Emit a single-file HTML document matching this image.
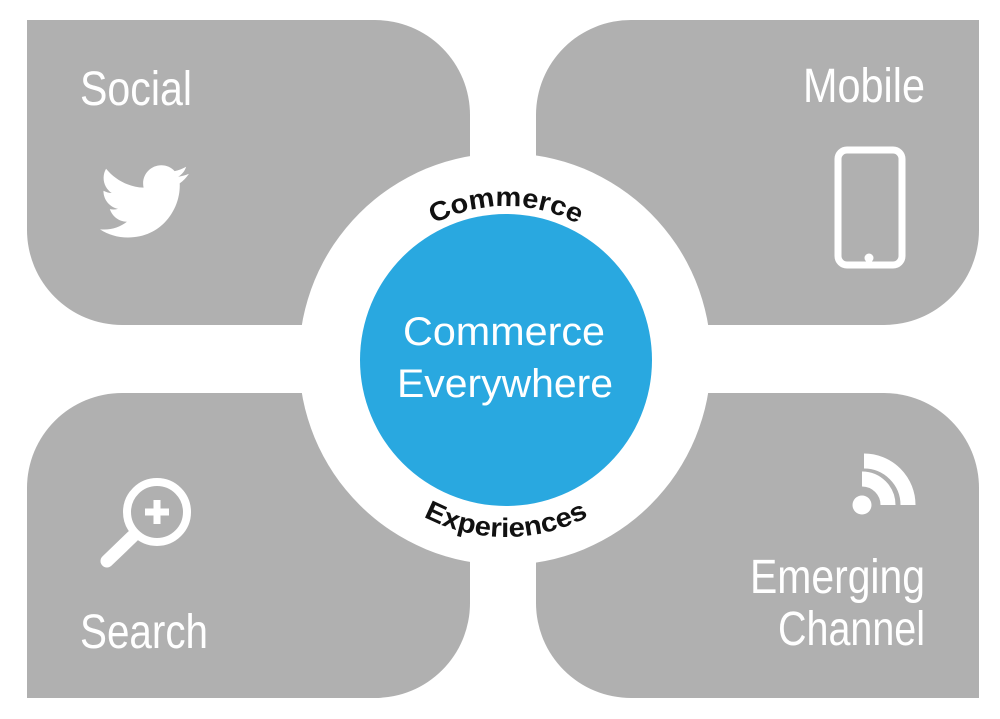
<!DOCTYPE html>
<html><head><meta charset="utf-8"><style>
html,body{margin:0;padding:0;background:#fff;}
svg{display:block;}
</style></head><body>
<svg width="1000" height="719" viewBox="0 0 1000 719" xmlns="http://www.w3.org/2000/svg">
<g fill="#b0b0b0">
<path d="M27,20 H375 A95,95 0 0 1 470,115 V325 H122 A95,95 0 0 1 27,230 Z"/>
<path d="M632,20 H979 V230 A95,95 0 0 1 884,325 H536 V115 A95,95 0 0 1 632,20 Z"/>
<path d="M122,393 H470 V603 A95,95 0 0 1 375,698 H27 V488 A95,95 0 0 1 122,393 Z"/>
<path d="M536,393 H884 A95,95 0 0 1 979,488 V698 H631 A95,95 0 0 1 536,603 Z"/>
</g>
<circle cx="505" cy="359" r="206" fill="#fff"/>
<circle cx="506" cy="360" r="146" fill="#29a8e0"/>
<defs>
<path id="topArc" d="M352,360 A154,154 0 0 1 660,360"/>
<path id="botArc" d="M329,360 A177,177 0 0 0 683,360"/>
</defs>
<g font-family="Liberation Sans, sans-serif" font-weight="bold" font-size="27" fill="#111">
<text><textPath href="#topArc" startOffset="50%" text-anchor="middle" textLength="150" lengthAdjust="spacingAndGlyphs">Commerce</textPath></text>
<text><textPath href="#botArc" startOffset="50%" text-anchor="middle" textLength="172" lengthAdjust="spacingAndGlyphs">Experiences</textPath></text>
</g>
<g font-family="Liberation Sans, sans-serif" fill="#fff">
<text x="403" y="345" font-size="40" textLength="202" lengthAdjust="spacingAndGlyphs">Commerce</text>
<text x="397" y="397" font-size="40" textLength="216" lengthAdjust="spacingAndGlyphs">Everywhere</text>
<text x="80" y="105" font-size="48" textLength="112" lengthAdjust="spacingAndGlyphs">Social</text>
<text x="803" y="102" font-size="48" textLength="122" lengthAdjust="spacingAndGlyphs">Mobile</text>
<text x="80" y="648" font-size="48" textLength="128" lengthAdjust="spacingAndGlyphs">Search</text>
<text x="750" y="593" font-size="48" textLength="175" lengthAdjust="spacingAndGlyphs">Emerging</text>
<text x="778" y="645" font-size="48" textLength="147" lengthAdjust="spacingAndGlyphs">Channel</text>
</g>
<!-- twitter bird -->
<path fill="#fff" transform="translate(100,157) scale(3.7,3.7)" d="M23.954 4.569c-.885.389-1.83.654-2.825.775 1.014-.611 1.794-1.574 2.163-2.723-.951.555-2.005.959-3.127 1.184-.896-.959-2.173-1.559-3.591-1.559-2.717 0-4.920 2.203-4.920 4.917 0 .39.045.765.127 1.124C7.691 8.094 4.066 6.13 1.64 3.161c-.427.722-.666 1.561-.666 2.475 0 1.71.87 3.213 2.188 4.096-.807-.026-1.566-.248-2.228-.616v.061c0 2.385 1.693 4.374 3.946 4.827-.413.111-.849.171-1.296.171-.314 0-.615-.03-.916-.086.631 1.953 2.445 3.377 4.604 3.417-1.68 1.319-3.809 2.105-6.102 2.105-.39 0-.779-.023-1.170-.067 2.189 1.394 4.768 2.209 7.557 2.209 9.054 0 13.999-7.496 13.999-13.986 0-.209 0-.42-.015-.63.961-.689 1.8-1.56 2.46-2.548l-.047-.02z"/>
<!-- phone -->
<rect x="838" y="150" width="64" height="115" rx="9" fill="none" stroke="#fff" stroke-width="7"/>
<circle cx="869" cy="258" r="4.5" fill="#fff"/>
<!-- magnifier -->
<circle cx="157" cy="512" r="30" fill="none" stroke="#fff" stroke-width="8"/>
<path d="M157,500 V524 M145,512 H169" stroke="#fff" stroke-width="7"/>
<path d="M133,536 L107,561" stroke="#fff" stroke-width="13" stroke-linecap="round"/>
<!-- rss -->
<circle cx="862" cy="505" r="9.5" fill="#fff"/>
<path d="M862,479 A26,26 0 0 1 888,505" fill="none" stroke="#fff" stroke-width="15"/>
<path d="M862,461 A44,44 0 0 1 906,505" fill="none" stroke="#fff" stroke-width="15" transform="translate(2,0)"/>
</svg>
</body></html>
